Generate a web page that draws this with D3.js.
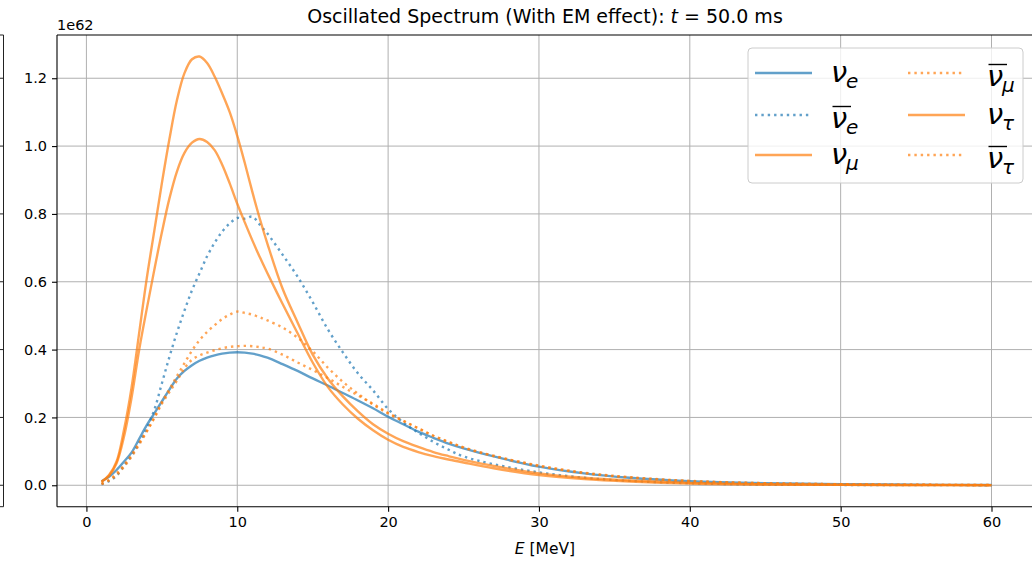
<!DOCTYPE html>
<html><head><meta charset="utf-8">
<script src="https://cdn.jsdelivr.net/npm/d3@7"></script>
<style>
body{margin:0;background:#fff;}
svg{display:block;font-family:"DejaVu Sans",sans-serif;}
</style>
</head><body>
<svg id="c" width="1032" height="563"></svg>
<script>
// ---- data (values in units of 1e62) ----
const energies = [1,1.5,2,2.5,3,3.5,4,4.5,5,5.5,6,6.5,7,7.5,8,8.5,9,9.5,10,10.5,11,11.5,12,13,14,15,16,17,18,19,20,21,22,23,24,25,27,30,33,36,40,45,50,55,60];
const nuE      = [0.012,0.025,0.045,0.07,0.097,0.137,0.177,0.212,0.247,0.282,0.315,0.337,0.354,0.367,0.376,0.383,0.388,0.391,0.392,0.391,0.388,0.383,0.376,0.357,0.337,0.315,0.294,0.272,0.25,0.227,0.202,0.18,0.158,0.14,0.123,0.109,0.085,0.055,0.035,0.022,0.012,0.006,0.003,0.0015,0.0008];
const nuEbar   = [0.003,0.012,0.028,0.058,0.088,0.125,0.168,0.222,0.30,0.378,0.45,0.515,0.575,0.625,0.675,0.715,0.748,0.772,0.788,0.786,0.792,0.768,0.742,0.68,0.615,0.54,0.46,0.392,0.33,0.28,0.225,0.185,0.155,0.128,0.105,0.085,0.062,0.038,0.022,0.013,0.006,0.002,0.001,0.0005,0.0002];
const nuMu     = [0.01,0.03,0.07,0.165,0.29,0.45,0.61,0.75,0.89,1.02,1.135,1.215,1.256,1.264,1.245,1.205,1.155,1.10,1.03,0.95,0.865,0.785,0.712,0.58,0.48,0.385,0.315,0.262,0.218,0.18,0.152,0.13,0.113,0.098,0.086,0.075,0.057,0.035,0.022,0.014,0.007,0.003,0.0015,0.0008,0.0003];
const nuMubar  = [0.004,0.016,0.035,0.06,0.09,0.125,0.16,0.20,0.245,0.283,0.322,0.36,0.397,0.428,0.452,0.472,0.49,0.503,0.512,0.508,0.503,0.495,0.486,0.465,0.435,0.395,0.347,0.305,0.27,0.238,0.212,0.19,0.168,0.146,0.128,0.112,0.087,0.058,0.037,0.024,0.013,0.006,0.003,0.0015,0.0008];
const nuTau    = [0.01,0.028,0.065,0.145,0.26,0.40,0.52,0.635,0.745,0.845,0.925,0.98,1.01,1.021,1.012,0.988,0.945,0.89,0.83,0.775,0.722,0.672,0.625,0.535,0.448,0.362,0.29,0.238,0.196,0.162,0.134,0.113,0.098,0.086,0.076,0.067,0.05,0.03,0.018,0.011,0.005,0.002,0.001,0.0005,0.0002];
const nuTaubar = [0.004,0.014,0.03,0.055,0.085,0.12,0.158,0.198,0.24,0.275,0.308,0.345,0.370,0.383,0.391,0.398,0.404,0.408,0.41,0.411,0.41,0.407,0.403,0.385,0.362,0.34,0.316,0.29,0.265,0.24,0.213,0.19,0.168,0.146,0.128,0.111,0.086,0.057,0.036,0.023,0.012,0.006,0.003,0.0015,0.0007];
const xTicks = [0,10,20,30,40,50,60];
const yTicks = [0.0,0.2,0.4,0.6,0.8,1.0,1.2];
const yTickLabels = ["0.0","0.2","0.4","0.6","0.8","1.0","1.2"];

// ---- series styling ----
const BLUE="#1f77b4", ORANGE="#ff7f0e";
const series = [
  {vals:nuE,      nu:"ν", sub:"e", bar:false, color:BLUE,   dotted:false},
  {vals:nuEbar,   nu:"ν", sub:"e", bar:true,  color:BLUE,   dotted:true},
  {vals:nuMu,     nu:"ν", sub:"μ", bar:false, color:ORANGE, dotted:false},
  {vals:nuMubar,  nu:"ν", sub:"μ", bar:true,  color:ORANGE, dotted:true},
  {vals:nuTau,    nu:"ν", sub:"τ", bar:false, color:ORANGE, dotted:false},
  {vals:nuTaubar, nu:"ν", sub:"τ", bar:true,  color:ORANGE, dotted:true}
];

const svg = d3.select("#c");
const L=57, T=35, R=1036, B=506.7;
const x = d3.scaleLinear().domain([-1.95,62.95]).range([L,R]);
const y = d3.scaleLinear().domain([-0.0632,1.3275]).range([B,T]);
const LW=2.4, ALPHA=0.7;
const FS=14.5;

// neighbouring panel edge at far left
const edge = svg.append("g").attr("stroke","#222").attr("stroke-width",1);
edge.append("line").attr("x1",3.5).attr("x2",3.5).attr("y1",T).attr("y2",B);
edge.append("line").attr("x1",0).attr("x2",3.5).attr("y1",B).attr("y2",B);
edge.append("line").attr("x1",0).attr("x2",3.5).attr("y1",T).attr("y2",T);
yTicks.forEach(v=>edge.append("line").attr("x1",0).attr("x2",3.5).attr("y1",y(v)).attr("y2",y(v)));

// grid
const grid = svg.append("g").attr("stroke","#b0b0b0").attr("stroke-width",1);
xTicks.forEach(v=>grid.append("line").attr("x1",x(v)).attr("x2",x(v)).attr("y1",T).attr("y2",B));
yTicks.forEach(v=>grid.append("line").attr("x1",L).attr("x2",R).attr("y1",y(v)).attr("y2",y(v)));

// clip
svg.append("defs").append("clipPath").attr("id","clip").append("rect")
  .attr("x",L).attr("y",T).attr("width",R-L).attr("height",B-T);

const line = d3.line().curve(d3.curveCatmullRom.alpha(0.5));
const plot = svg.append("g").attr("clip-path","url(#clip)");
series.forEach(s=>{
  const pts = energies.map((e,i)=>[x(e), y(s.vals[i])]);
  plot.append("path").attr("d",line(pts)).attr("fill","none")
    .attr("stroke",s.color).attr("stroke-opacity",ALPHA).attr("stroke-width",LW)
    .attr("stroke-dasharray", s.dotted ? `${LW*1},${LW*1.65}` : null)
    .attr("stroke-linecap","butt").attr("stroke-linejoin","round");
});

// axes
const xAxis = d3.axisBottom(x).tickValues(xTicks).tickSize(5).tickPadding(5).tickFormat(d3.format("d"));
const yAxis = d3.axisLeft(y).tickValues(yTicks).tickSize(5).tickPadding(5).tickFormat((d,i)=>yTickLabels[i]);
const gx = svg.append("g").attr("transform",`translate(0,${B})`).call(xAxis);
const gy = svg.append("g").attr("transform",`translate(${L},0)`).call(yAxis);
[gx,gy].forEach(g=>{
  g.select(".domain").remove();
  g.selectAll(".tick line").attr("stroke","#000").attr("stroke-width",1.1);
  g.selectAll(".tick text").attr("fill","#000").style("font-size",FS+"px").style("font-family","DejaVu Sans");
});

// spines
const sp = svg.append("g").attr("stroke","#000").attr("stroke-width",1.1).attr("fill","none");
sp.append("line").attr("x1",L).attr("x2",L).attr("y1",T).attr("y2",B);
sp.append("line").attr("x1",L).attr("x2",R).attr("y1",B).attr("y2",B);
sp.append("line").attr("x1",L).attr("x2",R).attr("y1",T).attr("y2",T);
sp.append("line").attr("x1",R).attr("x2",R).attr("y1",T).attr("y2",B);

// offset text
svg.append("text").attr("x",L).attr("y",30).style("font-size",FS+"px").attr("fill","#000").text("1e62");

// title
const title = svg.append("text").attr("x",545).attr("y",23).attr("text-anchor","middle")
  .style("font-size","19px").attr("fill","#000");
title.append("tspan").text("Oscillated Spectrum (With EM effect): ");
title.append("tspan").style("font-style","italic").text("t");
title.append("tspan").text(" = 50.0 ms");

// x label
const xl = svg.append("text").attr("x",545).attr("y",554).attr("text-anchor","middle")
  .style("font-size","15.5px").attr("fill","#000");
xl.append("tspan").style("font-style","italic").text("E");
xl.append("tspan").text(" [MeV]");

// legend
const lg = svg.append("g");
lg.append("rect").attr("x",748).attr("y",48).attr("width",275).attr("height",135).attr("rx",4)
  .attr("fill","#fff").attr("fill-opacity",0.8).attr("stroke","#cccccc").attr("stroke-width",1);
const rowsY=[73,115,155], colHX=[755,908], colTX=[831,987], HL=57;
series.forEach((s,i)=>{
  const col=Math.floor(i/3), row=i%3;
  const ry=rowsY[row];
  lg.append("line").attr("x1",colHX[col]).attr("x2",colHX[col]+HL).attr("y1",ry).attr("y2",ry)
    .attr("stroke",s.color).attr("stroke-opacity",ALPHA).attr("stroke-width",LW)
    .attr("stroke-dasharray", s.dotted ? `${LW*1},${LW*1.65}` : null);
  const base = ry + (s.bar ? 12.5 : 8.5);
  lg.append("text").attr("x",colTX[col]).attr("y",base).style("font-size","29px")
    .style("font-style","italic").attr("fill","#000").text(s.nu);
  lg.append("text").attr("x",colTX[col]+15).attr("y",base+6).style("font-size","20px")
    .style("font-style","italic").attr("fill","#000").text(s.sub);
  if(s.bar){
    lg.append("line").attr("x1",colTX[col]+1.5).attr("x2",colTX[col]+20).attr("y1",base-21).attr("y2",base-21)
      .attr("stroke","#000").attr("stroke-width",1.4);
  }
});
</script>
</body></html>
